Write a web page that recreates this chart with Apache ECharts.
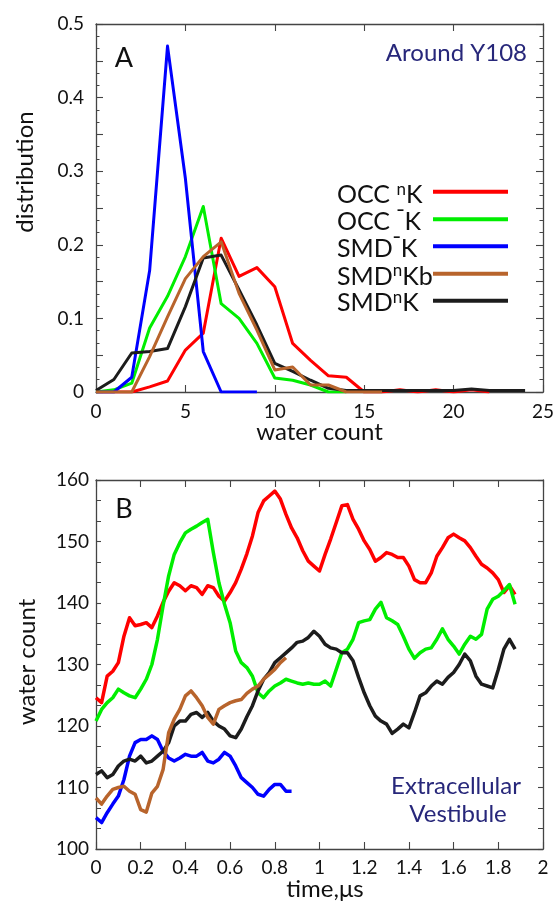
<!DOCTYPE html>
<html><head><meta charset="utf-8">
<script src="https://cdn.jsdelivr.net/npm/echarts@6/dist/echarts.min.js"></script>
<style>html,body{margin:0;padding:0;background:#fff}#c{width:557px;height:901px}</style>
</head><body><div id="c"></div>
<script>
const FONT = 'Lato, "Open Sans", sans-serif';

// ---------- Panel A: distribution vs water count ----------
const countX = [0,1,2,3,4,5,6,7,8,9,10,11,12,13,14,15,16,17,18,19,20,21,22,23,24];
const occN     = [0,0,0,0.007,0.015,0.057,0.08,0.209,0.157,0.169,0.143,0.066,0.043,0.022,0.02,0,0,0.003,0,0.003,0,0.003,0];
const occMinus = [0,0.003,0.012,0.087,0.13,0.184,0.252,0.12,0.10,0.066,0.019,0.016,0.0095,0,0];
const smdMinus = [0,0,0.02,0.165,0.47,0.29,0.055,0,0,0];
const smdNKb   = [0,0,0,0.048,0.102,0.154,0.184,0.204,0.134,0.084,0.03,0.034,0.0095,0.0095,0,0,0];
const smdN     = [0.002,0.017,0.053,0.055,0.059,0.116,0.182,0.186,0.139,0.091,0.039,0.028,0.016,0.005,0.002,0.002,0.002,0.002,0.002,0.002,0.002,0.004,0.002,0.002,0.002];

// ---------- Panel B: water count vs time (us) ----------
const timeB = [0,0.025,0.05,0.075,0.1,0.125,0.15,0.175,0.2,0.225,0.25,0.275,0.3,0.325,0.35,0.375,0.4,0.425,0.45,0.475,
  0.5,0.525,0.55,0.575,0.6,0.625,0.65,0.675,0.7,0.725,0.75,0.775,0.8,0.825,0.85,0.875,0.9,0.925,0.95,0.975,
  1.0,1.025,1.05,1.075,1.1,1.125,1.15,1.175,1.2,1.225,1.25,1.275,1.3,1.325,1.35,1.375,1.4,1.425,1.45,1.475,
  1.5,1.525,1.55,1.575,1.6,1.625,1.65,1.675,1.7,1.725,1.75,1.775,1.8,1.825,1.85,1.875];
const wOccN = [124.6,123.8,128.1,128.9,130.3,134.6,137.6,136.3,136.5,136.8,136.0,137.9,140.1,141.9,143.3,142.8,142.0,142.8,142.5,141.4,
  142.8,142.5,141.1,140.3,141.7,143.3,145.5,148.0,150.9,154.7,156.6,157.4,158.2,156.9,154.4,152.2,150.6,148.5,146.8,146.0,
  145.2,147.9,150.4,153.1,155.8,156.0,153.6,152.0,150.1,148.7,146.8,147.4,148.2,147.9,147.4,147.4,146.0,143.8,143.3,143.3,
  144.9,147.6,149.0,150.6,151.2,150.6,150.1,149.0,147.6,146.3,145.7,144.9,143.8,141.7,142.8,141.4];
const wOccMinus = [120.8,122.7,123.8,124.6,126.0,125.4,124.9,124.6,126.0,127.6,130.0,134.1,139.5,144.4,147.9,149.8,151.4,152.0,152.5,153.1,
  153.6,148.2,143.3,139.8,136.8,132.2,130.3,129.5,128.1,125.4,124.6,125.7,126.5,127.0,127.6,127.3,127.0,126.8,127.0,126.8,
  126.8,127.3,126.5,129.2,131.9,132.5,134.1,136.8,137.1,137.3,139.0,140.1,137.6,137.1,136.5,134.6,132.5,131.0,131.9,132.5,
  132.7,134.1,135.8,134.1,133.0,131.7,133.3,134.6,134.1,134.9,139.0,140.6,141.1,142.0,143.0,139.8];
const wSmdMinus = [105.1,104.3,105.9,107.3,108.6,111.3,115.1,117.3,117.8,117.8,118.4,117.8,115.9,114.8,114.3,114.8,115.4,115.1,115.1,115.7,
  114.3,114.0,114.6,115.7,115.1,113.5,111.6,110.8,110.0,108.9,108.6,109.7,110.5,110.5,109.4,109.4];
const wSmdNKb = [108.3,107.3,108.6,109.7,110.0,110.2,109.4,108.9,106.4,106.0,109.1,110.2,112.9,118.9,121.1,122.7,124.9,125.7,124.6,123.3,
  121.4,120.3,122.7,123.3,123.8,124.1,124.3,125.3,126.0,126.5,127.6,128.4,129.2,130.3,131.1];
const wSmdN = [112.1,112.7,111.6,112.1,113.5,114.3,114.6,114.3,115.1,114.0,114.3,115.1,115.9,117.3,120.0,120.8,120.8,121.9,122.2,121.4,
  122.2,120.8,120.0,119.5,118.4,118.1,119.5,121.5,123.3,125.7,127.6,128.7,130.3,131.1,131.9,132.7,133.6,133.8,134.4,135.4,
  134.6,133.3,132.7,132.5,131.9,131.9,130.6,127.9,125.4,123.3,121.6,120.8,120.3,118.8,119.5,120.3,119.7,122.2,124.9,125.4,
  126.5,127.3,126.8,127.9,128.7,130.0,131.7,130.6,128.1,126.8,126.5,126.2,129.2,132.5,134.1,132.5];

const legendNames = ['{m|OCC }{s|n}{m|K}', '{m|OCC }{b|¯}{m|K}', '{m|SMD}{b|¯}{m|K}', '{m|SMD}{s|n}{m|Kb}', '{m|SMD}{s|n}{m|K}'];

const RED = '#ff0000', GREEN = '#00ee00', BLUE = '#0000ff', BROWN = '#b8642c', BLACK = '#1c1c1c';
const NAVY = '#27277a';
const FRAME = '#444';

function pairs(xs, ys) { return ys.map((v, i) => [xs[i], v]); }

function axisBase(extra) {
  return Object.assign({
    type: 'value',
    axisLine: { show: true, onZero: false, lineStyle: { color: FRAME, width: 1.3 } },
    axisTick: { show: true, inside: true, length: 7, lineStyle: { color: FRAME, width: 1.1 } },
    splitLine: { show: false },
    axisLabel: { fontSize: 19, color: '#111', fontFamily: FONT }
  }, extra);
}

const chart = echarts.init(document.getElementById('c'), null, { renderer: 'canvas' });

const labA = v => (Math.abs(v * 10 - Math.round(v * 10)) < 1e-6) ? String(+v.toFixed(1)) : '';

const lineSer = (name, xi, yi, data, color, w) => ({
  name, type: 'line', xAxisIndex: xi, yAxisIndex: yi, data, showSymbol: false, symbol: 'none',
  lineStyle: { color, width: w, join: 'round' }, itemStyle: { color }, animation: false, silent: true
});

const legendColors = [RED, GREEN, BLUE, BROWN, BLACK];
const legendTextY = [195, 222, 249, 276.5, 303];
const legendLineY = [191.7, 219.3, 246.3, 273.7, 300.7];

const graphics = [];
legendNames.forEach((t, i) => {
  graphics.push({
    type: 'text', x: 337, y: legendTextY[i],
    style: {
      text: t, textAlign: 'left', textVerticalAlign: 'middle',
      rich: {
        m: { fontSize: 25, fontFamily: FONT, fill: '#111', lineHeight: 28 },
        s: { fontSize: 17, fontFamily: FONT, fill: '#111', lineHeight: 10, verticalAlign: 'top' },
        b: { fontSize: 20, fontFamily: FONT, fill: '#111', lineHeight: 22, verticalAlign: 'top', fontWeight: 'bold' }
      }
    }
  });
  graphics.push({
    type: 'line', shape: { x1: 433, y1: legendLineY[i], x2: 508, y2: legendLineY[i] },
    style: { stroke: legendColors[i], lineWidth: 4 }
  });
});
graphics.push(
  { type: 'text', x: 124, y: 58, style: { text: 'A', fontSize: 27, fontFamily: FONT, fill: '#111', textAlign: 'center', textVerticalAlign: 'middle' } },
  { type: 'text', x: 124, y: 509, style: { text: 'B', fontSize: 27, fontFamily: FONT, fill: '#111', textAlign: 'center', textVerticalAlign: 'middle' } },
  { type: 'text', x: 527, y: 53, style: { text: 'Around Y108', fontSize: 24, fontFamily: FONT, fill: NAVY, textAlign: 'right', textVerticalAlign: 'middle' } },
  { type: 'text', x: 456, y: 786, style: { text: 'Extracellular', fontSize: 24, fontFamily: FONT, fill: NAVY, textAlign: 'center', textVerticalAlign: 'middle' } },
  { type: 'text', x: 458, y: 814, style: { text: 'Vestibule', fontSize: 24, fontFamily: FONT, fill: NAVY, textAlign: 'center', textVerticalAlign: 'middle' } },
  { type: 'text', x: 319.5, y: 432, style: { text: 'water count', fontSize: 24, fontFamily: FONT, fill: '#111', textAlign: 'center', textVerticalAlign: 'middle' } },
  { type: 'text', x: 325, y: 889, style: { text: 'time,μs', fontSize: 24, fontFamily: FONT, fill: '#111', textAlign: 'center', textVerticalAlign: 'middle' } },
  { type: 'text', x: 25, y: 172, rotation: Math.PI / 2, style: { text: 'distribution', fontSize: 24, fontFamily: FONT, fill: '#111', textAlign: 'center', textVerticalAlign: 'middle' } },
  { type: 'text', x: 27, y: 662, rotation: Math.PI / 2, style: { text: 'water count', fontSize: 24, fontFamily: FONT, fill: '#111', textAlign: 'center', textVerticalAlign: 'middle' } }
);

chart.setOption({
  animation: false,
  backgroundColor: '#fff',
  grid: [
    { left: 96, top: 24, width: 447, height: 368 },
    { left: 96, top: 480, width: 447, height: 369 }
  ],
  xAxis: [
    axisBase({ gridIndex: 0, position: 'bottom', min: 0, max: 25, interval: 5, axisLabel: { fontSize: 19, color: '#111', fontFamily: FONT, margin: 10 } }),
    axisBase({ gridIndex: 0, position: 'top', min: 0, max: 25, interval: 5, axisLabel: { show: false } }),
    axisBase({ gridIndex: 1, position: 'bottom', min: 0, max: 2, interval: 0.2, axisLabel: { fontSize: 19, color: '#111', fontFamily: FONT, margin: 9 } }),
    axisBase({ gridIndex: 1, position: 'top', min: 0, max: 2, interval: 0.2, axisLabel: { show: false } })
  ],
  yAxis: [
    axisBase({ gridIndex: 0, position: 'left', min: 0, max: 0.5, interval: 0.05,
      minorTick: { show: true, splitNumber: 3, length: 3.5, lineStyle: { color: FRAME, width: 1 } },
      axisLabel: { fontSize: 19, color: '#111', fontFamily: FONT, margin: 12, formatter: labA } }),
    axisBase({ gridIndex: 0, position: 'right', min: 0, max: 0.5, interval: 0.05,
      minorTick: { show: true, splitNumber: 3, length: 3.5, lineStyle: { color: FRAME, width: 1 } },
      axisLabel: { show: false } }),
    axisBase({ gridIndex: 1, position: 'left', min: 100, max: 160, interval: 10,
      axisTick: { show: true, inside: true, length: 5, lineStyle: { color: FRAME, width: 1.1 } },
      minorTick: { show: true, splitNumber: 3, length: 5, lineStyle: { color: FRAME, width: 1 } },
      axisLabel: { fontSize: 19, color: '#111', fontFamily: FONT, margin: 7 } }),
    axisBase({ gridIndex: 1, position: 'right', min: 100, max: 160, interval: 10,
      axisTick: { show: true, inside: true, length: 5, lineStyle: { color: FRAME, width: 1.1 } },
      minorTick: { show: true, splitNumber: 3, length: 5, lineStyle: { color: FRAME, width: 1 } },
      axisLabel: { show: false } })
  ],
  series: [
    lineSer('OCCnK', 0, 0, pairs(countX, occN), RED, 3),
    lineSer('OCC-K', 0, 0, pairs(countX, occMinus), GREEN, 3),
    lineSer('SMD-K', 0, 0, pairs(countX, smdMinus), BLUE, 3),
    lineSer('SMDnK', 0, 0, pairs(countX, smdN), BLACK, 3),
    lineSer('SMDnKb', 0, 0, pairs(countX, smdNKb), BROWN, 3),
    lineSer('OCCnK', 2, 2, pairs(timeB, wOccN), RED, 3.5),
    lineSer('OCC-K', 2, 2, pairs(timeB, wOccMinus), GREEN, 3.5),
    lineSer('SMD-K', 2, 2, pairs(timeB, wSmdMinus), BLUE, 3.5),
    lineSer('SMDnK', 2, 2, pairs(timeB, wSmdN), BLACK, 3.5),
    lineSer('SMDnKb', 2, 2, pairs(timeB, wSmdNKb), BROWN, 3.5)
  ],
  graphic: graphics
});
</script></body></html>
